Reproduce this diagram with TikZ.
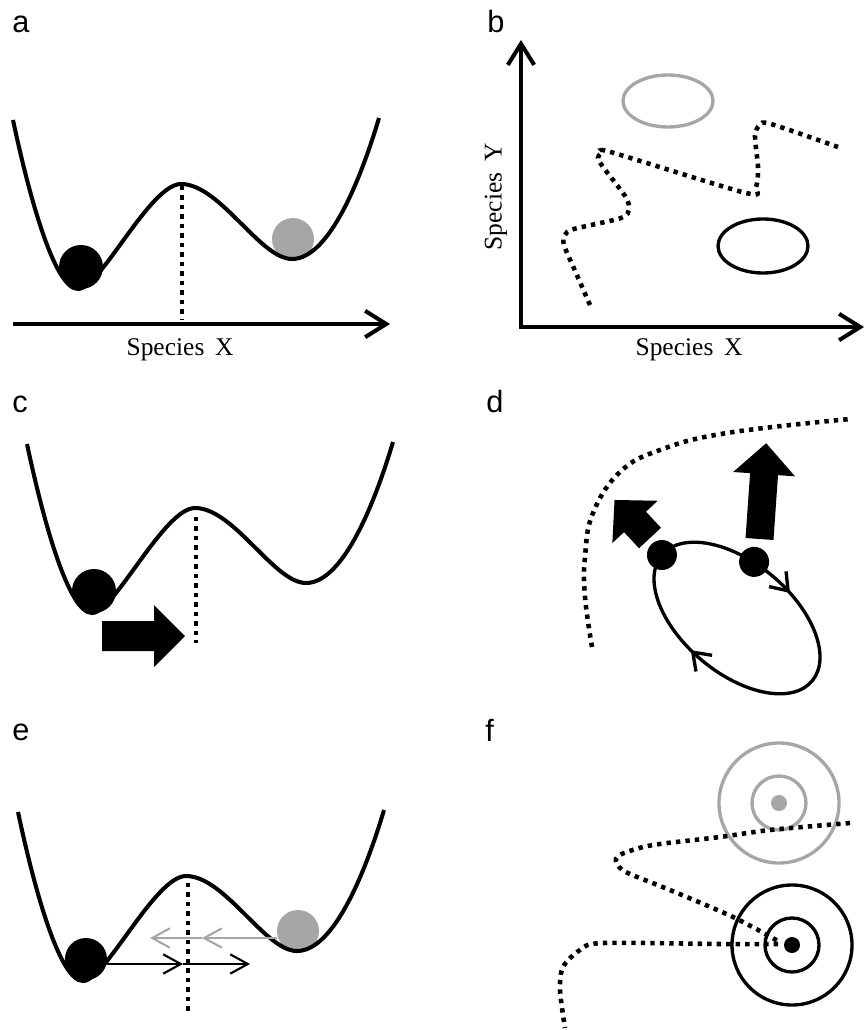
\documentclass[tikz,border=0pt]{standalone}
\usepackage{fontspec}
\setmainfont{Liberation Serif}
\newfontfamily\panelfont{Liberation Sans}
\usepackage{tikz}
\usetikzlibrary{arrows.meta, decorations.markings}
\definecolor{ballgray}{RGB}{166,166,166}
\tikzset{
  well/.style={line width=2.3pt, line join=round},
  axis/.style={line width=2.3pt},
  dots/.style={line width=2.6pt, dash pattern=on 2.5pt off 2.9pt},
  orbit/.style={line width=1.9pt},
  panel/.style={font=\panelfont\fontsize{17.5}{20}\selectfont, anchor=base west, inner sep=0pt},
  axlabel/.style={font=\fontsize{14.5}{17}\selectfont, inner sep=0pt},
  thinarrow/.style={line width=1.2pt, -{Straight Barb[length=10pt, width=11pt]}},
  loopmarks/.style={postaction={decorate}, decoration={markings,
    mark=at position 0.28 with {\arrow{Straight Barb[length=9pt, width=13pt]}},
    mark=at position 0.80 with {\arrow{Straight Barb[length=9pt, width=13pt]}}}}
}

\begin{document}
\begin{tikzpicture}[x=0.02cm, y=-0.02cm, >={Straight Barb[length=12pt, width=15pt]}]
  \useasboundingbox (0,0) rectangle (866,1030);

  % Panel labels
  \node[panel] (la) at (12,33) {a};
  \node[panel] (lb) at (487,33) {b};
  \node[panel] (lc) at (12,412) {c};
  \node[panel] (ld) at (486,412) {d};
  \node[panel] (le) at (12,740) {e};
  \node[panel] (lf) at (485,741) {f};

  % a: double well
  \draw[dots] (182,186) -- (182,320);
  \fill[ballgray] (293,239) circle [radius=21];
  \draw[well] (13,120) .. controls (30,200) and (55,289) .. (78,289)
    .. controls (100,289) and (150,184) .. (181,184)
    .. controls (220,184) and (260,259) .. (292,259)
    .. controls (330,259) and (362,175) .. (379,118);
  \fill (81,267) circle [radius=22];
  \coordinate (xa0) at (13,324);
  \coordinate (xa1) at (390,324);
  \draw[axis, ->] (xa0) -- (xa1);
  \node[axlabel] (spxa) at (180,350) {Species\, X};

  % b: state space
  \coordinate (ob) at (521,327);
  \coordinate (yb) at (521,40);
  \coordinate (xb) at (864,327);
  \draw[axis, <->] (yb) -- (ob) -- (xb);
  \node[axlabel] (spxb) at (689,350) {Species\, X};
  \node[axlabel, rotate=90] (spyb) at (496,197) {Species\, Y};
  \draw[orbit, ballgray] (668,101) ellipse [x radius=45, y radius=26];
  \draw[orbit] (763,246) ellipse [x radius=45, y radius=27];
  \draw[dots] plot[smooth] coordinates {(590,305) (576,273) (564,245)
    (565,235) (574,229) (621,218) (629,209) (625,196) (603,167) (598,158) (603,152)
    (614,153) (746,193) (756,187) (758,167) (755,136) (760,125) (771,124) (838,147)};

  % c: shifted barrier
  \begin{scope}[shift={(14,324)}]
    \draw[well] (13,120) .. controls (30,200) and (55,289) .. (78,289)
      .. controls (100,289) and (150,184) .. (181,184)
      .. controls (220,184) and (260,259) .. (292,259)
      .. controls (330,259) and (362,175) .. (379,118);
  \end{scope}
  \fill (94,591) circle [radius=22];
  \draw[dots] (196,517) -- (196,643);
  \fill (102,621) -- (154,621) -- (154,605) -- (185,636) -- (154,667) -- (154,651)
    -- (102,651) -- cycle;

  % d: limit cycle
  \draw[dots] plot[smooth, tension=0.7] coordinates {(592,647) (585,597) (585,557)
    (593,513) (620,472) (660,450) (727,433) (850,419)};
  \begin{scope}[shift={(737,618)}, rotate=-40]
    \draw[orbit, loopmarks] (0,0) ellipse [x radius=98, y radius=55];
    \fill (-98,0) circle [radius=15];
    \fill (-23,-54) circle [radius=15];
  \end{scope}
  \begin{scope}[shift={(759.5,539)}, rotate=-4]
    \fill (-14,0) -- (-14,-65) -- (-31,-65) -- (0,-96) -- (31,-65) -- (14,-65)
      -- (14,0) -- cycle;
  \end{scope}
  \begin{scope}[shift={(650,538)}, rotate=43]
    \fill (-15,0) -- (-15,-22) -- (-31,-22) -- (0,-52) -- (31,-22) -- (15,-22)
      -- (15,0) -- cycle;
  \end{scope}

  % e: flickering
  \begin{scope}[shift={(5,692)}]
    \fill[ballgray] (293,239) circle [radius=21];
    \draw[well] (13,120) .. controls (30,200) and (55,289) .. (78,289)
      .. controls (100,289) and (150,184) .. (181,184)
      .. controls (220,184) and (260,259) .. (292,259)
      .. controls (330,259) and (362,175) .. (379,118);
    \fill (81,267) circle [radius=21];
  \end{scope}
  \draw[dots] (188,883) -- (188,1012);
  \coordinate (gs) at (277,938);
  \coordinate (gm) at (202,938);
  \coordinate (ge) at (150,938);
  \draw[thinarrow, ballgray] (gs) -- (gm);
  \draw[thinarrow, ballgray] (gm) -- (ge);
  \coordinate (bs) at (107,964);
  \coordinate (bm) at (183,964);
  \coordinate (be) at (250,964);
  \draw[thinarrow] (bs) -- (bm);
  \draw[thinarrow] (bm) -- (be);

  % f: spatial pattern
  \draw[orbit, ballgray] (779,803) circle [radius=60];
  \draw[orbit, ballgray] (779,803) circle [radius=27];
  \fill[ballgray] (779,803) circle [radius=8];
  \draw[orbit] (792,945) circle [radius=60];
  \draw[orbit] (792,945) circle [radius=27];
  \fill (792,945) circle [radius=8];
  \draw[dots] plot[smooth] coordinates {(850,823) (770,830) (720,837)
    (653,845) (624,853) (616,859) (619,867) (630,874) (670,890) (733,917) (778,941)};
  \draw[dots] plot[smooth] coordinates {(778,944) (720,944) (603,943)
    (580,950) (563,967) (560,990) (565,1028)};
\end{tikzpicture}
\end{document}
